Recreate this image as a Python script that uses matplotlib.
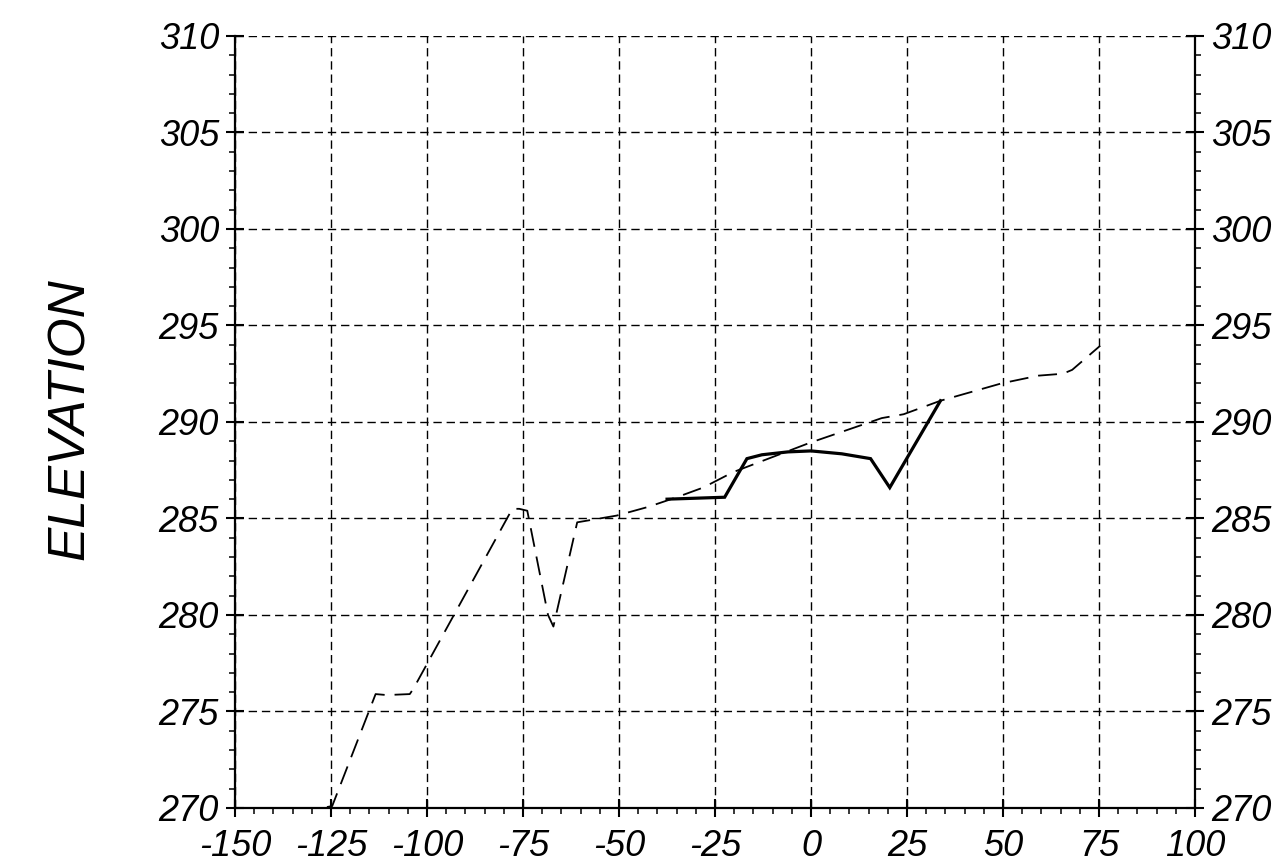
import numpy as np
import matplotlib.pyplot as plt
from matplotlib.ticker import MultipleLocator

plt.rcParams['axes.unicode_minus'] = False
plt.rcParams['font.family'] = 'Liberation Sans'

# ground profile (dashed) and new section (solid)
ground_x = [-133.5, -126, -124.7, -113.4, -110.5, -104.5, -103.5, -77.8, -76, -73.9,
            -68.5, -67.1, -60.9, -50.6, -42.4, -37.2, -33.6, -28.1, -20.3, -0.6,
            18.4, 24.1, 33.7, 49.6, 59.2, 65.6, 68.0, 75.3]
ground_y = [269.8, 270.05, 270.1, 275.9, 275.85, 275.9, 276.2, 285.5, 285.5, 285.4,
            280.0, 279.4, 284.8, 285.15, 285.6, 285.95, 286.2, 286.6, 287.4, 288.9,
            290.2, 290.4, 291.1, 292.0, 292.4, 292.5, 292.7, 293.95]

section_x = [-37.5, -22.5, -16.7, -12.8, -6.0, 0.0, 8.0, 15.5, 20.5, 33.7]
section_y = [286.0, 286.1, 288.1, 288.3, 288.45, 288.5, 288.35, 288.1, 286.6, 291.1]

xticks = np.arange(-150, 101, 25)
yticks = np.arange(270, 311, 5)

fig = plt.figure(figsize=(12.81, 8.67), dpi=100)
ax = fig.add_axes([0.1835, 0.0681, 0.7494, 0.8904])

ax.plot(ground_x, ground_y, color='k', lw=1.3, dashes=(10.5, 5.5), zorder=3)
ax.plot(section_x, section_y, color='k', lw=2.3, solid_joinstyle='miter', zorder=4)

ax.set_xlim(-150, 100)
ax.set_ylim(270, 310)
ax.set_xticks(xticks)
ax.set_yticks(yticks)
ax.set_xticklabels([str(v) for v in xticks])
ax.set_yticklabels([str(v) for v in yticks])
ax.xaxis.set_minor_locator(MultipleLocator(5))
ax.yaxis.set_minor_locator(MultipleLocator(1))

ax.grid(which='major', color='k', lw=1.0, dashes=(6, 3.5), zorder=1)

ax.spines['top'].set_visible(False)
for sp in ('left', 'right', 'bottom'):
    ax.spines[sp].set_linewidth(1.6)

ax.tick_params(axis='both', which='major', direction='inout', length=13, width=1.5,
               labelsize=26, right=True, labelright=True, top=False)
ax.tick_params(axis='both', which='minor', direction='out', length=4, width=1.1,
               right=True, top=False)
ax.tick_params(axis='x', which='major', pad=9)
ax.tick_params(axis='y', which='major', pad=5)
for t in ax.xaxis.get_major_ticks():
    t.label1.set_style('italic')
for t in ax.yaxis.get_major_ticks():
    t.label1.set_style('italic')
    t.label2.set_style('italic')

fig.text(0.055, 0.517, 'ELEVATION', rotation=90, fontsize=37, style='italic',
         ha='center', va='center')

fig.savefig('out.png', dpi=100, facecolor='white')
